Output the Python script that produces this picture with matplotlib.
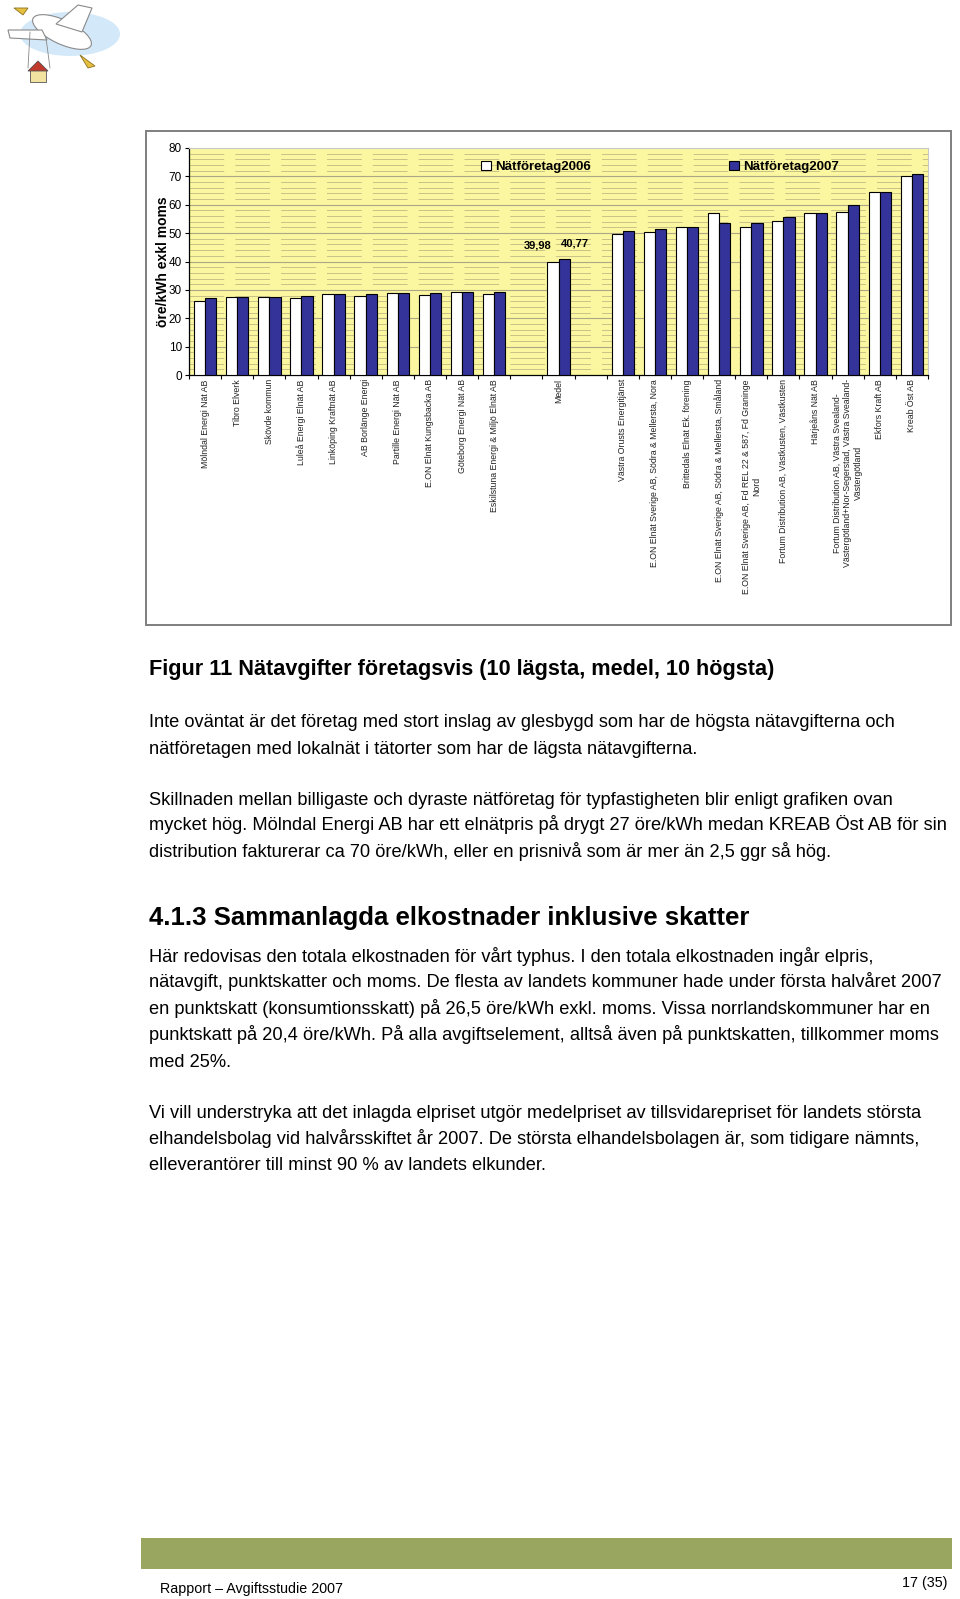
import numpy as np
import matplotlib
matplotlib.use("Agg")
import matplotlib.pyplot as plt
from matplotlib.patches import Rectangle, Ellipse, Polygon

plt.rcParams['font.family'] = ['Liberation Sans', 'DejaVu Sans']
plt.rcParams['lines.scale_dashes'] = False

# ---------------- data ----------------
low_names = ["Mölndal Energi Nät AB", "Tibro Elverk", "Skövde kommun",
             "Luleå Energi Elnät AB", "Linköping Kraftnät AB", "AB Borlänge Energi",
             "Partille Energi Nät AB", "E.ON Elnät Kungsbacka AB",
             "Göteborg Energi Nät AB", "Eskilstuna Energi & Miljö Elnät AB"]
low_2006 = [26.0, 27.4, 27.6, 27.2, 28.5, 27.8, 28.9, 28.1, 29.1, 28.7]
low_2007 = [27.1, 27.4, 27.5, 27.8, 28.4, 28.6, 28.9, 29.0, 29.2, 29.4]

mean_name = "Medel"
mean_2006 = 39.98
mean_2007 = 40.77

high_names = ["Västra Orusts Energitjänst",
              "E.ON Elnät Sverige AB, Södra & Mellersta, Nora",
              "Brittedals Elnät Ek. förening",
              "E.ON Elnät Sverige AB, Södra & Mellersta, Småland",
              "E.ON Elnät Sverige AB, Fd REL 22 & 587, Fd Graninge\nNord",
              "Fortum Distribution AB, Västkusten, Västkusten",
              "Härjeåns Nät AB",
              "Fortum Distribution AB, Västra Svealand-\nVästergötland+Nor-Segerstad, Västra Svealand-\nVästergötland",
              "Ekfors Kraft AB",
              "Kreab Öst AB"]
high_2006 = [49.6, 50.4, 52.0, 57.0, 52.0, 54.2, 57.2, 57.6, 64.5, 70.0]
high_2007 = [50.8, 51.4, 52.0, 53.4, 53.6, 55.6, 57.2, 59.8, 64.5, 70.8]

series_labels = ["Nätföretag2006", "Nätföretag2007"]
y_label = "öre/kWh exkl moms"
y_ticks = [0, 10, 20, 30, 40, 50, 60, 70, 80]

caption = "Figur 11 Nätavgifter företagsvis (10 lägsta, medel, 10 högsta)"
para1 = ["Inte oväntat är det företag med stort inslag av glesbygd som har de högsta nätavgifterna och",
         "nätföretagen med lokalnät i tätorter som har de lägsta nätavgifterna."]
para2 = ["Skillnaden mellan billigaste och dyraste nätföretag för typfastigheten blir enligt grafiken ovan",
         "mycket hög. Mölndal Energi AB har ett elnätpris på drygt 27 öre/kWh medan KREAB Öst AB för sin",
         "distribution fakturerar ca 70 öre/kWh, eller en prisnivå som är mer än 2,5 ggr så hög."]
heading = "4.1.3 Sammanlagda elkostnader inklusive skatter"
para3 = ["Här redovisas den totala elkostnaden för vårt typhus. I den totala elkostnaden ingår elpris,",
         "nätavgift, punktskatter och moms. De flesta av landets kommuner hade under första halvåret 2007",
         "en punktskatt (konsumtionsskatt) på 26,5 öre/kWh exkl. moms. Vissa norrlandskommuner har en",
         "punktskatt på 20,4 öre/kWh. På alla avgiftselement, alltså även på punktskatten, tillkommer moms",
         "med 25%."]
para4 = ["Vi vill understryka att det inlagda elpriset utgör medelpriset av tillsvidarepriset för landets största",
         "elhandelsbolag vid halvårsskiftet år 2007. De största elhandelsbolagen är, som tidigare nämnts,",
         "elleverantörer till minst 90 % av landets elkunder."]
footer_left = "Rapport – Avgiftsstudie 2007"
footer_right = "17 (35)"

# ---------------- combine (with empty gap slots) ----------------
names = low_names + [""] + [mean_name] + [""] + high_names
v06 = np.array(low_2006 + [np.nan, mean_2006, np.nan] + high_2006, dtype=float)
v07 = np.array(low_2007 + [np.nan, mean_2007, np.nan] + high_2007, dtype=float)
x = np.arange(len(names))
mean_idx = len(low_names) + 1

# ---------------- figure ----------------
W, H = 960, 1599
fig = plt.figure(figsize=(W / 100, H / 100), dpi=100)
page = fig.add_axes([0, 0, 1, 1], zorder=0)
page.set_xlim(0, W)
page.set_ylim(H, 0)
page.axis('off')

# logo (simple sketch of flying bird with a house)
page.add_patch(Ellipse((70, 34), 100, 44, color='#a9d3f2', alpha=0.5, lw=0))
page.add_patch(Ellipse((62, 32), 64, 24, angle=25, fc='white', ec='#8a8a8a', lw=0.8))
page.add_patch(Polygon([[56, 24], [78, 5], [92, 8], [82, 32]], closed=True, fc='white', ec='#8a8a8a', lw=0.8))
page.add_patch(Polygon([[42, 30], [8, 30], [10, 38], [47, 40]], closed=True, fc='white', ec='#8a8a8a', lw=0.8))
page.add_patch(Polygon([[14, 8], [28, 8], [23, 15]], closed=True, fc='#e8c040', ec='#8a7020', lw=0.6))
page.add_patch(Polygon([[80, 55], [95, 66], [88, 68]], closed=True, fc='#e8c040', ec='#8a7020', lw=0.6))
page.add_patch(Rectangle((30, 70), 16, 12, fc='#f3e3a0', ec='#555555', lw=0.6))
page.add_patch(Polygon([[28, 71], [38, 61], [48, 71]], closed=True, fc='#c0392b', ec='#555555', lw=0.6))
page.plot([30, 28], [32, 68], color='#888888', lw=0.6)
page.plot([46, 50], [38, 68], color='#888888', lw=0.6)

# chart frame
page.add_patch(Rectangle((146, 131), 805, 494, fill=False, ec='#7f7f7f', lw=1.4))

# chart axes
L, R, T, B = 189, 928, 148, 375
ax = fig.add_axes([L / W, 1 - B / H, (R - L) / W, (B - T) / H], zorder=2)
ax.set_facecolor('#fbf6a0')
ax.set_xlim(-0.5, len(names) - 0.5)
ax.set_ylim(0, 80)

for yv in np.arange(2, 80, 2):
    if yv % 10 == 0:
        ax.axhline(yv, color='#aca885', lw=0.8, zorder=1)
    else:
        ax.axhline(yv, color='#c9c288', lw=0.7, dashes=(25, 8), zorder=1)

bw = 0.35
ax.bar(x - bw / 2, v06, bw, color='white', edgecolor='black', lw=0.8, zorder=3)
ax.bar(x + bw / 2, v07, bw, color='#333399', edgecolor='black', lw=0.8, zorder=3)

# value labels for the average
ax.text(mean_idx - 0.64, mean_2006 + 5.8, f"{mean_2006:.2f}".replace('.', ','),
        ha='center', va='center', fontsize=8, fontweight='bold', zorder=4)
ax.text(mean_idx + 0.51, mean_2007 + 5.6, f"{mean_2007:.2f}".replace('.', ','),
        ha='center', va='center', fontsize=8, fontweight='bold', zorder=4)

ax.set_yticks(y_ticks)
ax.tick_params(axis='y', length=3, width=0.8, direction='out', pad=2, labelsize=8.5)
ax.set_xticks(x)
ax.set_xticklabels(names, rotation=90, fontsize=6.3, color='#222222', multialignment='center')
ax.tick_params(axis='x', which='major', length=0, pad=3)
ax.set_xticks(np.arange(-0.5, len(names), 1), minor=True)
ax.tick_params(axis='x', which='minor', length=3, width=0.8, direction='out')
for s in ['top', 'right']:
    ax.spines[s].set_color('#c8c8c8')
    ax.spines[s].set_linewidth(0.8)
for s in ['left', 'bottom']:
    ax.spines[s].set_color('black')
    ax.spines[s].set_linewidth(0.9)

# legends (two separate entries)
h06 = Rectangle((0, 0), 1, 1, fc='white', ec='black', lw=0.8)
h07 = Rectangle((0, 0), 1, 1, fc='#333399', ec='black', lw=0.8)
leg_kw = dict(frameon=False, handlelength=0.75, handleheight=0.75, handletextpad=0.3,
              borderpad=0, borderaxespad=0, loc='center left',
              prop={'weight': 'bold', 'size': 9.5}, bbox_transform=fig.transFigure)
leg1 = ax.legend([h06], [series_labels[0]], bbox_to_anchor=(481 / W, 1 - 167 / H), **leg_kw)
ax.add_artist(leg1)
ax.legend([h07], [series_labels[1]], bbox_to_anchor=(729 / W, 1 - 167 / H), **leg_kw)

fig.text(163 / W, 1 - 262 / H, y_label, rotation=90, fontsize=10, fontweight='bold',
         ha='center', va='center', zorder=5)

# ---------------- body text ----------------
renderer = fig.canvas.get_renderer()


def fit_size(s, target, weight='normal', base=10):
    t = page.text(0, 0, s, fontsize=base, fontweight=weight)
    w = t.get_window_extent(renderer).width
    t.remove()
    return base * target / w


body_size = fit_size(para1[0], 751)
cap_size = fit_size(caption, 627, 'bold')
head_size = fit_size(heading, 602, 'bold')
foot_size = fit_size(footer_left, 182)

X0 = 149
page.text(X0, 669 + 6, caption, fontsize=cap_size, fontweight='bold', va='baseline')
for txt, yc in zip(para1, [721, 748]):
    page.text(X0, yc + 6, txt, fontsize=body_size, va='baseline')
for txt, yc in zip(para2, [799, 824, 851]):
    page.text(X0, yc + 6, txt, fontsize=body_size, va='baseline')
page.text(X0, 918 + 7, heading, fontsize=head_size, fontweight='bold', va='baseline')
for txt, yc in zip(para3, [956, 981, 1008, 1034, 1061]):
    page.text(X0, yc + 6, txt, fontsize=body_size, va='baseline')
for txt, yc in zip(para4, [1112, 1138, 1164]):
    page.text(X0, yc + 6, txt, fontsize=body_size, va='baseline')

# footer
page.add_patch(Rectangle((141, 1538), 811, 31, color='#98a65f', lw=0))
page.text(160, 1588 + 5, footer_left, fontsize=foot_size, va='baseline')
page.text(947, 1582 + 5, footer_right, fontsize=foot_size, va='baseline', ha='right')

fig.savefig("out.png", dpi=100)
